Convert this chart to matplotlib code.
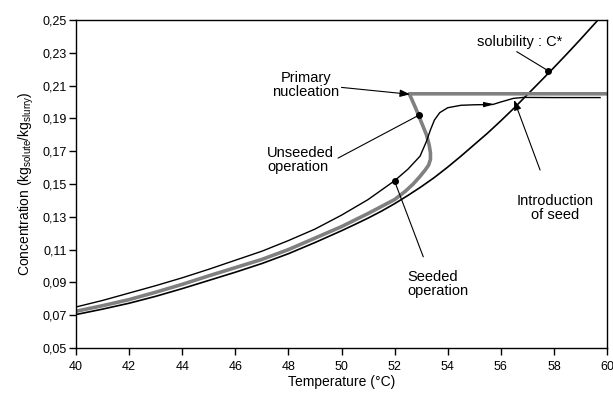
import numpy as np
import matplotlib
matplotlib.use('Agg')
from matplotlib import pyplot as plt

plt.rcParams['font.family'] = ['Liberation Sans', 'DejaVu Sans']

# solubility curve C*
sol_T = [40, 41, 42, 43, 44, 45, 46, 47, 48, 49, 50, 50.5, 51, 51.5, 52, 52.5, 53, 53.5,
         54, 54.5, 55, 55.5, 56, 56.5, 57, 57.5, 58, 58.5, 59, 59.66]
sol_C = [0.0704, 0.0737, 0.0773, 0.0815, 0.0862, 0.0912, 0.0962, 0.1015, 0.1075, 0.1143,
         0.1215, 0.1253, 0.1292, 0.1334, 0.1380, 0.1430, 0.1483, 0.1540, 0.1603, 0.1670,
         0.1740, 0.1810, 0.1885, 0.1963, 0.2045, 0.2127, 0.2210, 0.2295, 0.2382, 0.2500]

# unseeded operation (black)
uns_T = [40, 41, 42, 43, 44, 45, 46, 47, 48, 49, 50, 51, 52, 52.5, 52.96, 53.2, 53.35,
         53.5, 53.7, 54.0, 54.5, 55.0, 55.7, 56.0, 56.47, 56.85, 58.0, 59.74]
uns_C = [0.0750, 0.0790, 0.0835, 0.0880, 0.0928, 0.0980, 0.1035, 0.1090, 0.1155, 0.1225,
         0.1310, 0.1405, 0.1520, 0.1590, 0.1670, 0.1760, 0.1830, 0.1890, 0.1935, 0.1965,
         0.1980, 0.1983, 0.1985, 0.2000, 0.2022, 0.2028, 0.2027, 0.2027]

# seeded operation (grey)
see_T = [40, 41, 42, 43, 44, 45, 46, 47, 48, 49, 50, 51, 52, 52.4, 52.7, 52.95, 53.15,
         53.28, 53.35, 53.35, 53.3, 53.2, 53.0, 52.8, 52.65, 52.55, 60]
see_C = [0.0724, 0.0758, 0.0795, 0.0840, 0.0888, 0.0940, 0.0990, 0.1040, 0.1100, 0.1170,
         0.1240, 0.1320, 0.1405, 0.1455, 0.1500, 0.1545, 0.1585, 0.1615, 0.1650, 0.1690,
         0.1740, 0.1800, 0.1880, 0.1960, 0.2015, 0.2050, 0.2050]

xticks = [40, 42, 44, 46, 48, 50, 52, 54, 56, 58, 60]
yticks = [0.05, 0.07, 0.09, 0.11, 0.13, 0.15, 0.17, 0.19, 0.21, 0.23, 0.25]

fig = plt.figure(figsize=(6.13, 3.94), dpi=100)
ax = fig.add_axes([76/613, 1-348/394, (607-76)/613, (348-20)/394])

ax.plot(sol_T, sol_C, color='black', lw=1.2)
ax.plot(see_T, see_C, color='#808080', lw=2.6, solid_joinstyle='round')
ax.plot(uns_T, uns_C, color='black', lw=1.0)

ax.set_xlim(40, 60)
ax.set_ylim(0.05, 0.25)
ax.set_xticks(xticks)
ax.set_yticks(yticks)
ax.set_xticklabels([str(t) for t in xticks])
ax.set_yticklabels([('%.2f' % v).replace('.', ',') for v in yticks])
ax.tick_params(direction='out', length=5, width=1, labelsize=9)
ax.tick_params(axis='y', pad=1.5)
ax.tick_params(axis='x', pad=4)
for s in ax.spines.values():
    s.set_linewidth(1.0)

ax.set_xlabel('Temperature (°C)', fontsize=10, labelpad=2)
ax.set_ylabel(r'Concentration (kg$_{\mathregular{solute}}$/kg$_{\mathregular{slurry}}$)', fontsize=10, labelpad=5)

# annotations
fs = 10.5
ap_line = dict(arrowstyle='-', color='black', lw=0.8, shrinkA=0, shrinkB=0)
ap_head = dict(arrowstyle='-|>,head_length=0.6,head_width=0.22', color='black', lw=0.8, shrinkA=0, shrinkB=0)

ax.text(56.72, 0.2366, 'solubility : C*', fontsize=fs, ha='center', va='center')
ax.annotate('', xy=(57.79, 0.219), xytext=(56.6, 0.2307), arrowprops=ap_line)
ax.plot([57.79], [0.219], 'o', color='black', ms=4)

ax.text(48.66, 0.2103, 'Primary\nnucleation', fontsize=fs, ha='center', va='center', linespacing=1.05)
ax.annotate('', xy=(52.58, 0.2047), xytext=(50.0, 0.2089), arrowprops=ap_head)

ax.text(47.19, 0.1646, 'Unseeded\noperation', fontsize=fs, ha='left', va='center', linespacing=1.05)
ax.annotate('', xy=(52.92, 0.192), xytext=(49.87, 0.1658), arrowprops=ap_line)
ax.plot([52.92], [0.192], 'o', color='black', ms=4)

ax.text(52.47, 0.0889, 'Seeded\noperation', fontsize=fs, ha='left', va='center', linespacing=1.05)
ax.annotate('', xy=(52.0, 0.1517), xytext=(53.08, 0.1056), arrowprops=ap_line)
ax.plot([52.0], [0.1517], 'o', color='black', ms=4)

ax.text(58.04, 0.1353, 'Introduction\nof seed', fontsize=fs, ha='center', va='center', linespacing=1.05)
ax.annotate('', xy=(56.5, 0.2012), xytext=(57.48, 0.1585), arrowprops=ap_head)

# direction arrow on unseeded curve
ax.annotate('', xy=(55.75, 0.1986), xytext=(55.3, 0.1984),
            arrowprops=dict(arrowstyle='-|>,head_length=0.6,head_width=0.15', color='black', lw=0.8,
                            shrinkA=0, shrinkB=0))

fig.savefig('out.png', dpi=100)
